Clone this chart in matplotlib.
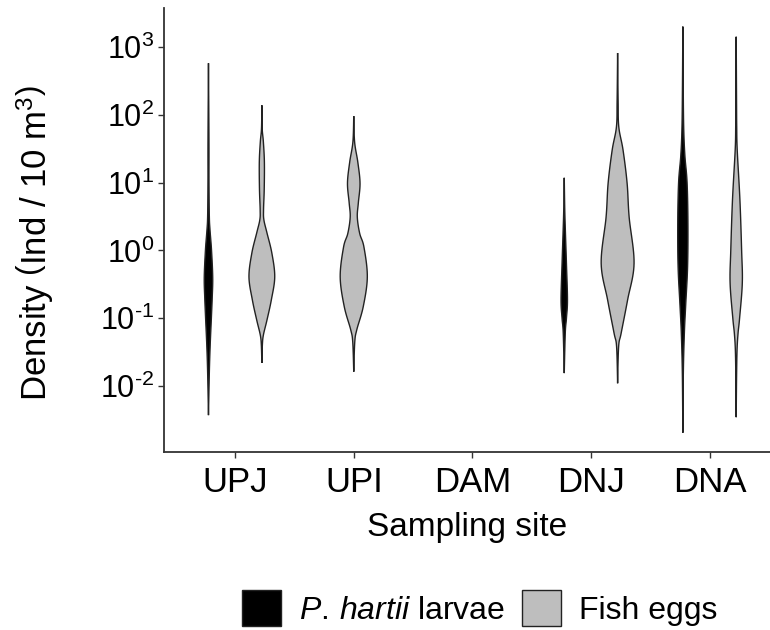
import numpy as np
import matplotlib.pyplot as plt
from matplotlib.patches import Patch

plt.rcParams['font.family'] = ['Liberation Sans', 'DejaVu Sans']
plt.rcParams['mathtext.fontset'] = 'custom'
plt.rcParams['mathtext.rm'] = 'Liberation Sans'
plt.rcParams['mathtext.it'] = 'Liberation Sans:italic'

sites = ['UPJ', 'UPI', 'DAM', 'DNJ', 'DNA']

# violin outlines: log10(density) and relative kernel width (1 = widest violin)
upj_larvae_y = [2.76, 2.0, 1.5, 1.0, 0.5, 0.3, 0.0, -0.4, -0.7, -1.0, -1.4, -1.8, -2.43]
upj_larvae_w = [0.0, 0.02, 0.03, 0.03, 0.05, 0.09, 0.18, 0.25, 0.22, 0.17, 0.10, 0.05, 0.0]
upj_eggs_y = [2.14, 1.8, 1.6, 1.3, 0.9, 0.6, 0.45, 0.26, -0.04, -0.39, -0.73, -1.03, -1.25, -1.4, -1.66]
upj_eggs_w = [0.0, 0.02, 0.09, 0.15, 0.14, 0.10, 0.12, 0.30, 0.59, 0.76, 0.56, 0.30, 0.09, 0.03, 0.0]
upi_eggs_y = [1.98, 1.6, 1.3, 0.99, 0.7, 0.49, 0.25, 0.05, -0.39, -0.83, -1.17, -1.35, -1.79]
upi_eggs_w = [0.0, 0.05, 0.24, 0.37, 0.27, 0.21, 0.35, 0.60, 0.80, 0.56, 0.18, 0.06, 0.0]
dnj_larvae_y = [1.07, 0.6, 0.26, -0.2, -0.73, -1.0, -1.22, -1.81]
dnj_larvae_w = [0.0, 0.03, 0.07, 0.13, 0.19, 0.13, 0.06, 0.0]
dnj_eggs_y = [2.91, 2.2, 1.82, 1.48, 0.99, 0.49, -0.19, -0.73, -1.22, -1.42, -1.96]
dnj_eggs_w = [0.0, 0.03, 0.07, 0.32, 0.56, 0.68, 0.97, 0.59, 0.21, 0.06, 0.0]
dna_larvae_y = [3.30, 2.5, 1.82, 1.4, 1.0, 0.4, -0.24, -0.8, -1.22, -1.8, -2.69]
dna_larvae_w = [0.0, 0.02, 0.05, 0.12, 0.25, 0.30, 0.28, 0.17, 0.09, 0.03, 0.0]
dna_eggs_y = [3.15, 2.2, 1.82, 1.48, 0.74, 0.0, -0.48, -1.0, -1.22, -1.47, -1.9, -2.46]
dna_eggs_w = [0.0, 0.02, 0.03, 0.06, 0.22, 0.32, 0.36, 0.20, 0.11, 0.05, 0.02, 0.0]

larvae = {'UPJ': (upj_larvae_y, upj_larvae_w),
          'DNJ': (dnj_larvae_y, dnj_larvae_w),
          'DNA': (dna_larvae_y, dna_larvae_w)}
eggs = {'UPJ': (upj_eggs_y, upj_eggs_w),
        'UPI': (upi_eggs_y, upi_eggs_w),
        'DNJ': (dnj_eggs_y, dnj_eggs_w),
        'DNA': (dna_eggs_y, dna_eggs_w)}

larvae_col = 'black'
eggs_col = '#bebebe'
edge_col = '#222222'
max_half = 0.143   # half width of the widest violin, in category units
dodge = 0.225

fig = plt.figure(figsize=(7.7, 6.3), dpi=100)
ax = fig.add_axes([0.213, 0.283, 0.787, 0.704])


def smooth_outline(ly, w, n=12):
    # Catmull-Rom curve through the outline points so the violin edges look rounded
    p = np.column_stack([ly, w])
    p = np.vstack([p[0], p, p[-1]])
    t = np.linspace(0, 1, n, endpoint=False)[:, None]
    segs = []
    for i in range(1, len(p) - 2):
        p0, p1, p2, p3 = p[i - 1], p[i], p[i + 1], p[i + 2]
        segs.append(0.5 * (2 * p1 + (p2 - p0) * t
                           + (2 * p0 - 5 * p1 + 4 * p2 - p3) * t ** 2
                           + (3 * p1 - p0 - 3 * p2 + p3) * t ** 3))
    segs.append(p[-2][None])
    out = np.vstack(segs)
    return out[:, 0], np.clip(out[:, 1], 0, None)


def draw_violin(x, ly, w, fc):
    sy, sw = smooth_outline(ly, w)
    half = sw * max_half
    xs = np.concatenate([x - half, (x + half)[::-1]])
    ys = 10.0 ** np.concatenate([sy, sy[::-1]])
    ax.fill(xs, ys, facecolor=fc, edgecolor=edge_col, lw=1.0, zorder=3)


for i, s in enumerate(sites, start=1):
    both = s in larvae and s in eggs
    if s in larvae:
        draw_violin(i - dodge if both else i, *larvae[s], larvae_col)
    if s in eggs:
        draw_violin(i + dodge if both else i, *eggs[s], eggs_col)

ax.set_yscale('log')
ax.set_ylim(10 ** -2.969, 10 ** 3.571)
ax.set_xlim(0.4, 5.51)
ax.set_xticks(range(1, 6))
ax.set_xticklabels(sites)
yt = [-2, -1, 0, 1, 2, 3]
ax.set_yticks([10.0 ** k for k in yt])
ax.set_yticklabels([r'$\mathregular{10^{%s}}$' % str(k).replace('-', '\u2010') for k in yt])
ax.yaxis.set_minor_locator(plt.NullLocator())

for side in ['top', 'right']:
    ax.spines[side].set_visible(False)
for side in ['left', 'bottom']:
    ax.spines[side].set_color('#333333')
    ax.spines[side].set_linewidth(1.3)
ax.tick_params(axis='both', colors='#333333', length=4, width=1.0, labelcolor='black')
ax.tick_params(axis='x', labelsize=25, pad=6)
ax.tick_params(axis='y', labelsize=22, pad=3)

ax.set_xlabel('Sampling site', fontsize=24)
ax.xaxis.set_label_coords(0.5, -0.135)
ax.set_ylabel(r'Density $\left(\mathregular{Ind\ /\ 10\ m^{3}}\right)$', fontsize=25)
ax.yaxis.set_label_coords(-0.178, 0.47)

handles = [Patch(facecolor=larvae_col, edgecolor=edge_col, lw=1.0),
           Patch(facecolor=eggs_col, edgecolor=edge_col, lw=1.0)]
fig.legend(handles, [r'$\mathit{P.\,hartii}$ larvae', 'Fish eggs'],
           loc='center', bbox_to_anchor=(0.623, 0.035), ncol=2, frameon=False,
           fontsize=23, handlelength=1.2, handleheight=1.35, handletextpad=0.56,
           columnspacing=0.56, borderaxespad=0, borderpad=0)

fig.savefig('out.png', dpi=100)
